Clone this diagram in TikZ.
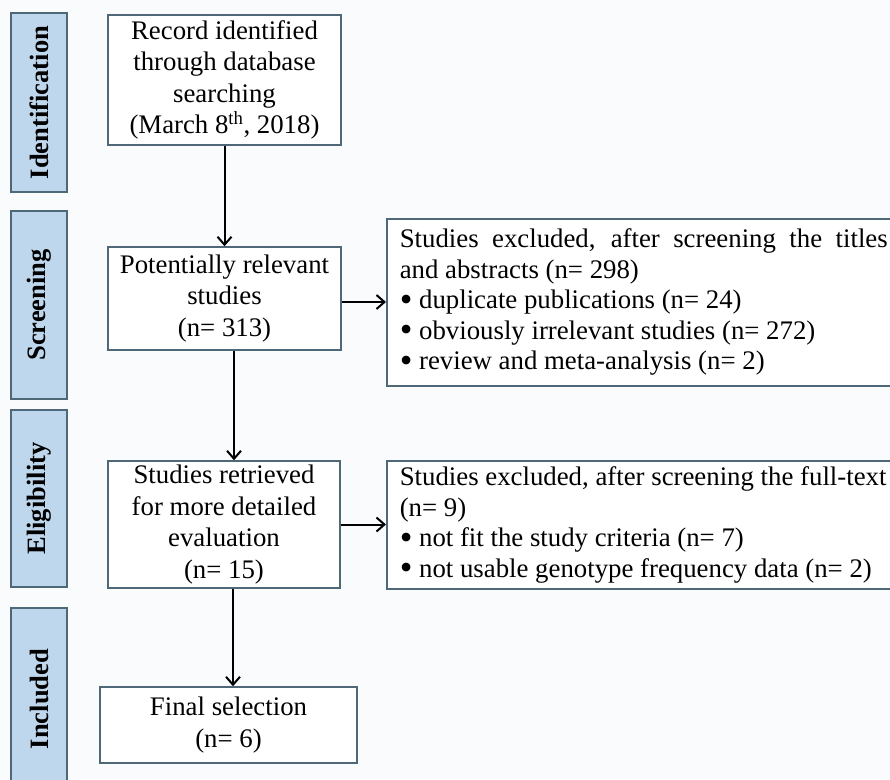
\documentclass[tikz,border=0pt]{standalone}
\usepackage{fontspec}
\setmainfont{Liberation Serif}
\usetikzlibrary{arrows.meta}
\definecolor{bordercol}{HTML}{4E6878}
\definecolor{sidefill}{HTML}{BFD7EC}
\definecolor{bgcol}{HTML}{FAFBFD}
\newcommand{\bigbul}{\smash{\raisebox{-0.1em}{\scalebox{1.35}{\textbullet}}}}
\tikzset{
  box/.style={draw=bordercol, line width=1.5pt, fill=white, align=center,
    font={\fontsize{26.8}{31.5}\selectfont}, inner sep=4pt},
  widebox/.style={draw=bordercol, line width=1.5pt, fill=white, align=justify,
    font={\fontsize{26.8}{30.5}\selectfont}, text width=488pt, inner xsep=13pt, inner ysep=4pt, anchor=north west},
  side/.style={draw=bordercol, line width=1.5pt, fill=sidefill, rotate=90,
    font={\fontsize{26.5}{30}\selectfont\bfseries}, minimum height=56pt, inner sep=0pt},
  arr/.style={line width=2pt, -{Straight Barb[length=8pt,width=14pt,line width=2pt]}}
}
\begin{document}
\begin{tikzpicture}[x=1pt,y=-1pt]
\fill[bgcol] (0,0) rectangle (890,779);
\useasboundingbox (0,0) rectangle (890,779);
% side labels
\node[side, minimum width=179pt] (s1) at (39,102.5) {Identification};
\node[side, minimum width=188pt] (s2) at (39,305) {Screening};
\node[side, minimum width=177pt] (s3) at (39,498.5) {Eligibility};
\node[side, minimum width=182pt] (s4) at (39,699) {Included};
% main boxes
\node[box, minimum width=233pt, minimum height=130pt] (b1) at (224.5,80)
  {Record identified\\through database\\searching\\(March 8\textsuperscript{th}, 2018)};
\node[box, minimum width=233pt, minimum height=103pt] (b2) at (224.5,298.5)
  {Potentially relevant\\studies\\(n= 313)};
\node[box, minimum width=232pt, minimum height=127pt] (b4) at (224,524.5)
  {Studies retrieved\\for more detailed\\evaluation\\(n= 15)};
\node[box, minimum width=257pt, minimum height=76pt] (b6) at (228.5,725)
  {Final selection\\(n= 6)};
\node[widebox, minimum height=167pt] (b3) at (386,218)
  {Studies excluded, after screening the titles\linebreak and abstracts (n= 298)\\
   \bigbul{} duplicate publications (n= 24)\\
   \bigbul{} obviously irrelevant studies (n= 272)\\
   \bigbul{} review and meta-analysis (n= 2)};
\node[widebox, minimum height=128pt] (b5) at (386,460)
  {Studies excluded, after screening the full-text\\
   (n= 9)\\
   \bigbul{} not fit the study criteria (n= 7)\\
   \bigbul{} not usable genotype frequency data (n= 2)};
% connectors
\draw[arr] (b1.south) -- (b2.north);
\draw[arr] ([xshift=9.5pt]b2.south) -- ([xshift=9.5pt]b2.south |- b4.north);
\draw[arr] ([xshift=9pt]b4.south) -- ([xshift=9pt]b4.south |- b6.north);
\draw[arr] ([yshift=-3.5pt]b2.east) -- ([yshift=-3.5pt]b2.east -| b3.west);
\draw[arr] (b4.east) -- (b4.east -| b5.west);
\end{tikzpicture}
\end{document}
